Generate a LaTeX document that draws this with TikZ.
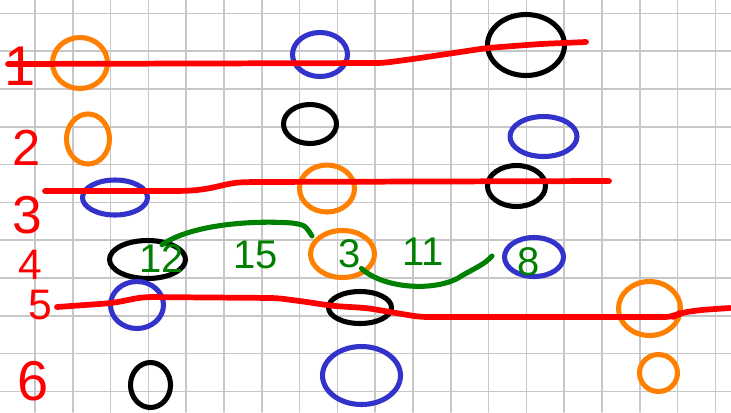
\documentclass[tikz,border=0pt]{standalone}
\usepackage{fontspec}
\setmainfont{Liberation Sans}
\definecolor{penred}{RGB}{255,0,0}
\definecolor{penorange}{RGB}{255,128,0}
\definecolor{penblue}{RGB}{51,51,204}
\definecolor{pengreen}{RGB}{0,128,0}
\begin{document}
\begin{tikzpicture}[x=0.75pt,y=-0.75pt,line cap=round,line join=round,
		gridline/.style={draw=black!22,line width=1.2pt},
		ring/.style={line width=3.8pt,draw=#1},
		redpen/.style={line width=4.3pt,draw=penred,rounded corners=6pt},
		greenpen/.style={line width=3.8pt,draw=pengreen},
		rowlab/.style={text=penred,inner sep=0pt,font=\fontsize{#1}{#1}\selectfont},
		numlab/.style={text=pengreen,inner sep=0pt,font=\fontsize{30}{30}\selectfont}]
		\useasboundingbox (0,0) rectangle (731,412);
		\fill[white] (0,0) rectangle (731,412);
		\foreach \gx in {0,...,18} \draw[gridline] ({35+37.8*\gx},0) -- ++(0,412);
		\foreach \gy in {0,...,10} \draw[gridline] (0,{13.3+37.8*\gy}) -- ++(731,0);
		% row 1 and 2
		\draw[ring=penorange] (80,63) ellipse [x radius=27.5,y radius=25.5];\draw[ring=penblue] (320,54.5) ellipse [x radius=27.5,y radius=22];\draw[ring=black] (526,45) ellipse [x radius=38.5,y radius=30.5];
		\draw[ring=penorange] (88,139) ellipse [x radius=21.5,y radius=25];\draw[ring=black] (310,124) ellipse [x radius=26.5,y radius=19.5];\draw[ring=penblue] (543.5,136.5) ellipse [x radius=33.5,y radius=20];
		% row 3 and 4
		\draw[ring=penblue] (115,197.5) ellipse [x radius=32.5,y radius=17.5];\draw[ring=penorange] (327,188.5) ellipse [x radius=27.5,y radius=23.5];\draw[ring=black] (516.5,186) ellipse [x radius=29,y radius=20.5];
		\draw[ring=black] (147.5,259.5) ellipse [x radius=38,y radius=19];\draw[ring=penorange] (342.5,254) ellipse [x radius=32,y radius=23.5];\draw[ring=penblue] (534,257) ellipse [x radius=29.5,y radius=19.5];
		% row 5 and 6
		\draw[ring=penblue] (137,305) ellipse [x radius=26.5,y radius=23.5];\draw[ring=black] (360,307.5) ellipse [x radius=31.5,y radius=16];\draw[ring=penorange] (649.5,308.5) ellipse [x radius=31,y radius=27];
		\draw[ring=black] (150.5,385) ellipse [x radius=20,y radius=22.5];\draw[ring=penblue] (361.5,375.5) ellipse [x radius=39,y radius=29];\draw[ring=penorange] (658.5,373) ellipse [x radius=19,y radius=18.5];
		% red lines
		\draw[redpen] (8,64) -- (383,63) -- (420,58) -- (487,48) -- (540,44) -- (586,42);
		\draw[redpen] (45,191) -- (183,191) .. controls (215,189) and (225,183) .. (250,182) -- (609,181);
		\draw[redpen] (57,307) -- (113,303) -- (143,297) -- (277,298) -- (307,302) -- (333,306) -- (367,308) -- (390,312) -- (420,317) -- (673,317) -- (680,313) -- (700,310) -- (730,308);
		\node[rowlab=42] (r1) at (20,66) {1};\node[rowlab=38] (r2) at (27,148) {2};\node[rowlab=40] (r3) at (27,215) {3};
		\node[rowlab=32] (r4) at (30,265) {4};\node[rowlab=32] (r5) at (40,305) {5};\node[rowlab=42] (r6) at (33,381) {6};
		% green numbers
		\node[numlab] (n12) at (162,259) {12};\node[numlab] (n15) at (256,255) {15};\node[numlab] (n3) at (350,254) {3};
		\node[numlab] (n11) at (423,252) {11};\node[numlab] (n8) at (529,262) {8};
		\coordinate (hookA) at (312,236);\coordinate (hookB) at (492,256);
		\draw[greenpen] (n12.north) .. controls (190,225) and (250,220) .. (292,223) .. controls (305,225) .. (hookA);
		\draw[greenpen] (n3.south east) .. controls (385,290) and (440,292) .. (463,275) .. controls (485,263) .. (hookB);
	\end{tikzpicture}
\end{document}
